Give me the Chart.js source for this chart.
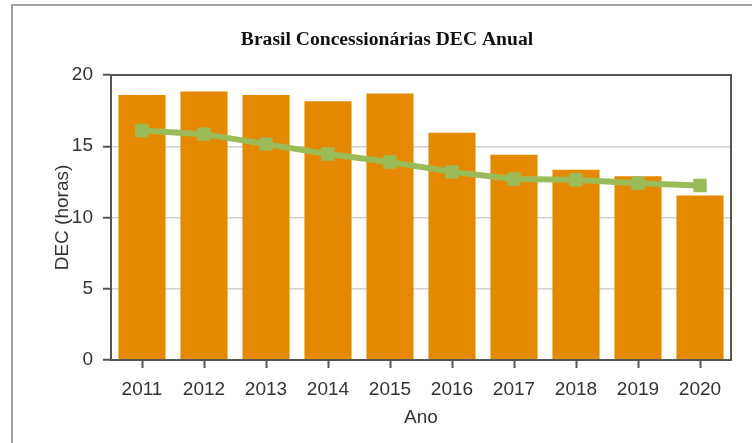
<!DOCTYPE html>
<html>
<head>
<meta charset="utf-8">
<script src="https://cdn.jsdelivr.net/npm/chart.js@4"></script>
<style>
    body { margin: 0; background: #fff; }
    #wrap { position: relative; width: 752px; height: 443px; overflow: hidden; }
    #frame { position: absolute; left: 11px; top: 4px; width: 800px; height: 500px;
             border-left: 2px solid #a3a3a3; border-top: 2px solid #a3a3a3; }
    #graphCanvas { position: absolute; left: 0; top: 0; }
</style>
</head>
<body>
<div id="wrap">
    <div id="frame"></div>
    <canvas id="graphCanvas" width="752" height="443"></canvas>
</div>
<script>
const chartTitle = "Brasil Concessionárias DEC Anual";
const years = ["2011", "2012", "2013", "2014", "2015", "2016", "2017", "2018", "2019", "2020"];
const decValues = [18.6, 18.85, 18.6, 18.15, 18.7, 15.95, 14.4, 13.35, 12.9, 11.55];
const trendValues = [16.1, 15.85, 15.15, 14.45, 13.9, 13.2, 12.7, 12.65, 12.4, 12.25];
const yTicks = [0, 5, 10, 15, 20];

const textColor = "#333";
const axisColor = "#555";

//Title and plot frame drawn on top of the chart
const framePlugin = {
    id: "frameAndTitle",
    afterDatasetsDraw(chart) {
        const {ctx, chartArea} = chart;
        ctx.save();
        ctx.strokeStyle = axisColor;
        ctx.lineWidth = 2;
        ctx.strokeRect(chartArea.left, chartArea.top, chartArea.right - chartArea.left, chartArea.bottom - chartArea.top);
        ctx.restore();
    },
    afterDraw(chart) {
        const ctx = chart.ctx;
        ctx.save();
        ctx.fillStyle = "#111";
        ctx.font = "bold 19.6px 'Liberation Serif'";
        ctx.textAlign = "center";
        ctx.textBaseline = "alphabetic";
        ctx.fillText(chartTitle, 387, 45);
        ctx.restore();
    }
};

const ctx = document.getElementById("graphCanvas").getContext("2d");

const chart = new Chart(ctx, {
    type: "bar",
    data: {
        labels: years,
        datasets: [
            {
                type: "line",
                data: trendValues,
                borderColor: "#9bbb59",
                backgroundColor: "#9bbb59",
                borderWidth: 6,
                pointStyle: "rect",
                pointRadius: 9.5,
                pointBorderWidth: 0,
                pointBackgroundColor: "#9bbb59",
                tension: 0,
                order: 0
            },
            {
                type: "bar",
                data: decValues,
                backgroundColor: "#e58a00",
                barPercentage: 0.76,
                categoryPercentage: 1,
                order: 1
            }
        ]
    },
    options: {
        responsive: false,
        animation: false,
        devicePixelRatio: 1,
        layout: { padding: { top: 75, right: 21, left: 0, bottom: 0 } },
        plugins: {
            legend: { display: false },
            title: { display: false },
            tooltip: { enabled: false }
        },
        scales: {
            x: {
                afterFit: (scale) => { scale.height = 83; },
                grid: { offset: false, drawOnChartArea: false, tickLength: 8, tickColor: axisColor, tickWidth: 2 },
                border: { color: axisColor, width: 2 },
                ticks: { color: textColor, font: { family: "Liberation Sans", size: 19 }, padding: 10, maxRotation: 0 },
                title: { display: true, text: "Ano", color: textColor, font: { family: "Liberation Sans", size: 19 }, padding: { top: 0, bottom: 14 } }
            },
            y: {
                min: 0,
                max: 20,
                afterFit: (scale) => { scale.width = 111; },
                afterBuildTicks: (scale) => { scale.ticks = yTicks.map(v => ({ value: v })); },
                grid: { color: "#cfcfcf", lineWidth: 1.5, tickLength: 8, tickColor: axisColor, tickWidth: 2 },
                border: { color: axisColor, width: 2 },
                ticks: { color: textColor, font: { family: "Liberation Sans", size: 19 }, padding: 10 },
                title: { display: true, text: "DEC (horas)", color: textColor, font: { family: "Liberation Sans", size: 19 }, padding: { top: 51, bottom: 0 } }
            }
        }
    },
    plugins: [framePlugin]
});
</script>
</body>
</html>
